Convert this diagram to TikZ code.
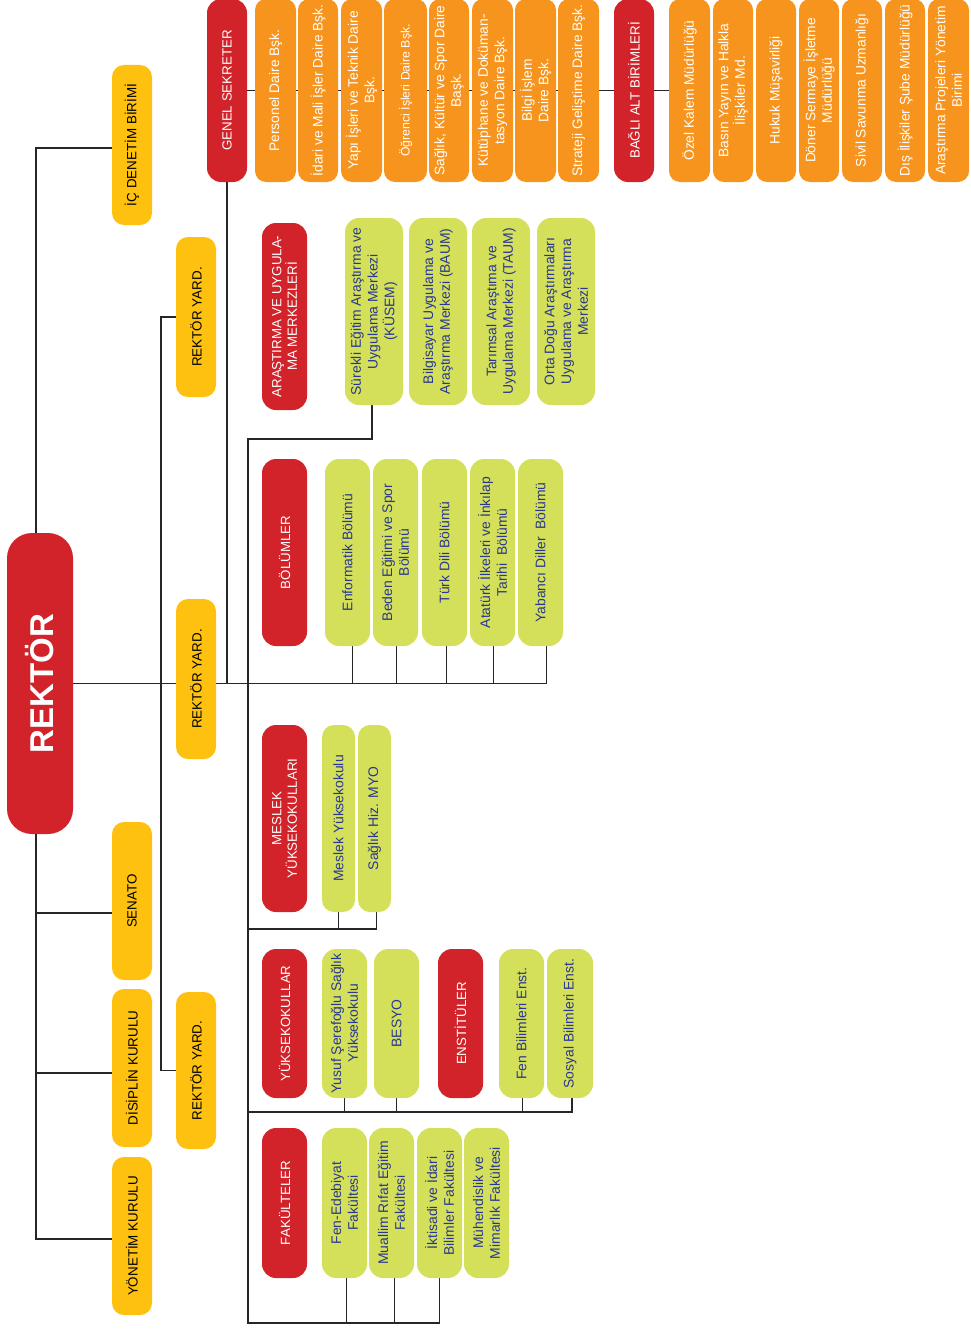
\documentclass[tikz,border=0pt]{standalone}
\usepackage{fontspec}
\setmainfont{Liberation Sans}
\usetikzlibrary{calc}
\pgfdeclarelayer{bg}
\pgfsetlayers{bg,main}
\definecolor{cred}{RGB}{210,35,42}
\definecolor{corange}{RGB}{247,148,29}
\definecolor{cyellow}{RGB}{254,193,15}
\definecolor{cgreen}{RGB}{213,224,90}
\definecolor{cnavy}{RGB}{40,55,145}
\newcommand\mybox[7]{\node[#2,minimum width={(#6-#4)*1pt},minimum height={(#5-#3)*1pt}] (#1) at ({(#3+#5)/2},{(#4+#6)/2}) {#7};}
\tikzset{
 boxbase/.style={rectangle, rounded corners=12pt, inner sep=0pt, outer sep=0pt, rotate=90, align=center},
 redbox/.style={boxbase, rounded corners=14pt, fill=cred, text=white, font=\fontsize{13.3}{15.5}\selectfont},
 orbox/.style={boxbase, rounded corners=11pt, fill=corange, text=white, font=\fontsize{13.8}{16.5}\selectfont},
 yelbox/.style={boxbase, fill=cyellow, text=black, font=\fontsize{13.4}{16}\selectfont},
 grnbox/.style={boxbase, rounded corners=14pt, fill=cgreen, text=cnavy, font=\fontsize{13.9}{16.7}\selectfont},
 conn/.style={draw=black!85, line width=1.4pt},
}
\begin{document}
\begin{tikzpicture}[x=1pt,y=-1pt]
\useasboundingbox (0,0) rectangle (971,1330);
% REKTOR
\mybox{rek}{redbox,rounded corners=25pt,font=\fontsize{33}{36}\bfseries}{7}{533}{73}{834}{REKTÖR}
% yellow column 1
\mybox{icd}{yelbox}{112}{65}{152}{225}{İÇ DENETİM BİRİMİ}
\mybox{sen}{yelbox}{112}{822}{152}{980}{SENATO}
\mybox{dis}{yelbox}{112}{989}{152}{1147}{DİSİPLİN KURULU}
\mybox{yon}{yelbox}{112}{1157}{152}{1315}{YÖNETİM KURULU}
% yellow column 2
\mybox{ry1}{yelbox}{176}{237}{216}{397}{REKTÖR YARD.}
\mybox{ry2}{yelbox}{176}{599}{216}{759}{REKTÖR YARD.}
\mybox{ry3}{yelbox}{176}{992}{216}{1149}{REKTÖR YARD.}
% top row
\mybox{gs}{redbox}{207}{-1}{247}{182}{GENEL SEKRETER}
\mybox{o1}{orbox}{255}{-1}{296}{182}{Personel Daire Bşk.}
\mybox{o2}{orbox}{298}{-1}{338}{182}{İdari ve Mali İşler Daire Bşk.}
\mybox{o3}{orbox}{341}{-1}{382}{182}{Yapı İşleri ve Teknik Daire\\Bşk.}
\mybox{o4}{orbox,font=\fontsize{12.3}{15}\selectfont}{384}{-1}{427}{182}{Öğrenci İşleri Daire Bşk.}
\mybox{o5}{orbox}{429}{-1}{469}{182}{Sağlık, Kültür ve Spor Daire\\Başk.}
\mybox{o6}{orbox}{472}{-1}{513}{182}{Kütüphane ve Doküman-\\tasyon Daire Bşk.}
\mybox{o7}{orbox}{515}{-1}{556}{182}{Bilgi İşlem\\Daire Bşk.}
\mybox{o8}{orbox}{558}{-1}{599}{182}{Strateji Geliştime Daire Bşk.}
\mybox{bag}{redbox}{614}{-1}{654}{182}{BAĞLI ALT BİRİMLERİ}
\mybox{ozel}{orbox}{669}{-1}{710}{182}{Özel Kalem Müdürlüğü}
\mybox{o10}{orbox}{713}{-1}{753}{182}{Basın Yayın ve Halkla\\İlişkiler Md.}
\mybox{o11}{orbox}{756}{-1}{796}{182}{Hukuk Müşavirliği}
\mybox{o12}{orbox}{799}{-1}{839}{182}{Döner Sermaye İşletme\\Müdürlüğü}
\mybox{o13}{orbox}{842}{-1}{882}{182}{Sivil Savunma Uzmanlığı}
\mybox{o14}{orbox}{885}{-1}{925}{182}{Dış İlişkiler Şube Müdürlüğü}
\mybox{o15}{orbox}{928}{-1}{969}{182}{Araştırma Projeleri Yönetim\\Birimi}
% red column
\mybox{arm}{redbox}{262}{223}{307}{410}{ARAŞTIRMA VE UYGULA-\\MA MERKEZLERİ}
\mybox{bol}{redbox}{262}{459}{307}{646}{BÖLÜMLER}
\mybox{mes}{redbox}{262}{725}{307}{912}{MESLEK\\YÜKSEKOKULLARI}
\mybox{yuk}{redbox}{262}{949}{307}{1098}{YÜKSEKOKULLAR}
\mybox{ens}{redbox}{438}{949}{483}{1098}{ENSTİTÜLER}
\mybox{fak}{redbox}{262}{1128}{307}{1278}{FAKÜLTELER}
% green: research centres
\mybox{kus}{grnbox}{345}{218}{403}{405}{Sürekli Eğitim Araştırma ve\\Uygulama Merkezi\\(KÜSEM)}
\mybox{baum}{grnbox}{409}{218}{467}{405}{Bilgisayar Uygulama ve\\Araştırma Merkezi (BAUM)}
\mybox{taum}{grnbox}{472}{218}{530}{405}{Tarımsal Araştıma ve\\Uygulama Merkezi (TAUM)}
\mybox{odu}{grnbox}{537}{218}{595}{405}{Orta Doğu Araştırmaları\\Uygulama ve Araştırma\\Merkezi}
% green: departments
\mybox{enf}{grnbox}{325}{459}{370}{646}{Enformatik Bölümü}
\mybox{bed}{grnbox}{373}{459}{418}{646}{Beden Eğitimi ve Spor\\Bölümü}
\mybox{tur}{grnbox}{422}{459}{467}{646}{Türk Dili Bölümü}
\mybox{ata}{grnbox}{470}{459}{515}{646}{Atatürk İlkeleri ve İnkılap\\Tarihi\ \ Bölümü}
\mybox{yab}{grnbox}{518}{459}{563}{646}{Yabancı Diller\ \ Bölümü}
% green: vocational
\mybox{myo}{grnbox,rounded corners=12pt}{322}{725}{355}{912}{Meslek Yüksekokulu}
\mybox{smyo}{grnbox,rounded corners=12pt}{358}{725}{391}{912}{Sağlık Hiz. MYO}
% green: schools and institutes
\mybox{yus}{grnbox}{322}{949}{367}{1098}{Yusuf Şerefoğlu Sağlık\\Yüksekokulu}
\mybox{besyo}{grnbox}{374}{949}{419}{1098}{BESYO}
\mybox{fenb}{grnbox}{499}{949}{544}{1098}{Fen Bilimleri Enst.}
\mybox{sos}{grnbox}{547}{949}{593}{1098}{Sosyal Bilimleri Enst.}
% green: faculties
\mybox{fened}{grnbox}{322}{1128}{367}{1278}{Fen-Edebiyat\\Fakültesi}
\mybox{mual}{grnbox}{369}{1128}{414}{1278}{Muallim Rıfat Eğitim\\Fakültesi}
\mybox{ikt}{grnbox}{417}{1128}{462}{1278}{İktisadi ve İdari\\Bilimler Fakültesi}
\mybox{muh}{grnbox}{464}{1128}{509}{1278}{Mühendislik ve\\Mimarlık Fakültesi}
% connectors
\coordinate (lt) at (36,148);
\coordinate (bt) at (248,439);
\coordinate (bb) at (248,1323);
\begin{pgfonlayer}{bg}
% left bus
\draw[conn] ([yshift=-3pt]icd.north) -- (lt) |- ([yshift=-3pt]yon.north);
\draw[conn] ([yshift=-12pt]sen.north) coordinate (s1) -- (s1 -| lt);
\draw[conn] ([yshift=-5pt]dis.north) coordinate (d1) -- (d1 -| lt);
% vice rectors
\draw[conn] (ry1.north) -- ++(-15,0) |- (ry3.north);
% main line
\draw[conn] (rek.south) -- ([xshift=6pt]yab.west |- rek.south) -- ([xshift=6pt]yab.west);
\draw[conn] ([xshift=5pt]enf.west) -- ([xshift=5pt]enf.west |- rek.south);
\draw[conn] ([xshift=1pt]bed.west) -- ([xshift=1pt]bed.west |- rek.south);
\draw[conn] ([xshift=2pt]tur.west) -- ([xshift=2pt]tur.west |- rek.south);
\draw[conn] ([xshift=1pt]ata.west) -- ([xshift=1pt]ata.west |- rek.south);
% general secretary
\draw[conn] (gs.west) -- (gs.west |- rek.south);
\draw[conn] (gs.south) -- (ozel.north);
% right bus
\draw[conn] ([xshift=-2pt]kus.west) |- (bt) -- (bb) -| (ikt.west);
\draw[conn] ([xshift=2pt]fened.west) -- ([xshift=2pt]fened.west |- bb);
\draw[conn] ([xshift=3pt]mual.west) -- ([xshift=3pt]mual.west |- bb);
% vocational
\draw[conn] ([xshift=2pt]smyo.west) -- ++(0,17) coordinate (mm) -- (mm -| bt);
\draw[conn] (myo.west) -- (myo.west |- mm);
% schools / institutes
\draw[conn] ([xshift=2pt]sos.west) -- ++(0,14) coordinate (yy) -- (yy -| bt);
\draw[conn] (yus.west) -- (yus.west |- yy);
\draw[conn] (besyo.west) -- (besyo.west |- yy);
\draw[conn] ([xshift=1pt]fenb.west) -- ([xshift=1pt]fenb.west |- yy);
\end{pgfonlayer}
\end{tikzpicture}
\end{document}
